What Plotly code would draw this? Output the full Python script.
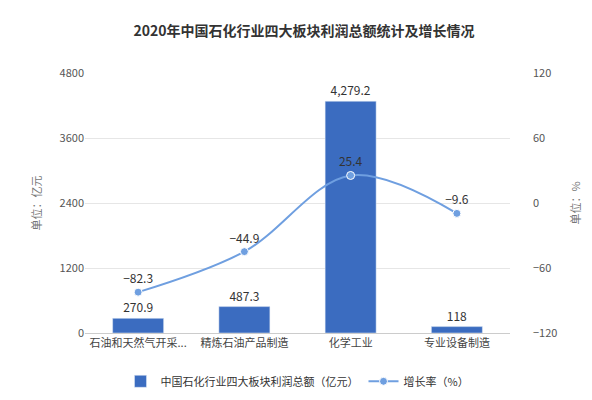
import plotly.graph_objects as go

categories = ["石油和天然气开采...", "精炼石油产品制造", "化学工业", "专业设备制造"]
profit = [270.9, 487.3, 4279.2, 118]
growth = [-82.3, -44.9, 25.4, -9.6]
profit_labels = ["270.9", "487.3", "4,279.2", "118"]
growth_labels = ["−82.3", "−44.9", "25.4", "−9.6"]

fig = go.Figure()
fig.add_trace(go.Bar(
    x=categories, y=profit, name="中国石化行业四大板块利润总额（亿元）",
    marker_color="#3b6cc0", width=0.48,
    text=profit_labels, textposition="outside",
    textfont=dict(size=12, color="#333", family="Noto Sans CJK SC"),
    cliponaxis=False,
))
fig.add_trace(go.Scatter(
    x=categories, y=growth, name="增长率（%）", yaxis="y2",
    mode="lines+markers+text", line=dict(color="#6f9fe0", width=2, shape="spline"),
    marker=dict(size=8, color="#6f9fe0", line=dict(color="white", width=1)),
    text=growth_labels, textposition="top center",
    textfont=dict(size=12, color="#333", family="Noto Sans CJK SC"),
    cliponaxis=False,
))

fig.update_layout(
    width=592, height=400,
    margin=dict(l=77, r=90, t=65, b=62),
    paper_bgcolor="white", plot_bgcolor="white",
    font=dict(family="Noto Sans CJK SC", size=11, color="#555"),
    title=dict(text="<b>2020年中国石化行业四大板块利润总额统计及增长情况</b>",
               x=0.5, y=0.955, xanchor="center", font=dict(size=14, color="#333")),
    xaxis=dict(showline=True, linecolor="#ccc", tickfont=dict(size=11, color="#444")),
    yaxis=dict(range=[0, 4800], dtick=1200, showgrid=True, gridcolor="#e6e6e6",
               zeroline=False, title=dict(text="单位：亿元", font=dict(size=11, color="#777"))),
    yaxis2=dict(range=[-120, 120], dtick=60, overlaying="y", side="right",
                showgrid=False, zeroline=False, ticklabelstandoff=22,
                title=dict(text="单位：%", font=dict(size=11, color="#777"))),
    legend=dict(orientation="h", x=0.5, xanchor="center", y=-0.13, yanchor="top",
                font=dict(size=11, color="#333")),
)

fig.write_html("out.html")
